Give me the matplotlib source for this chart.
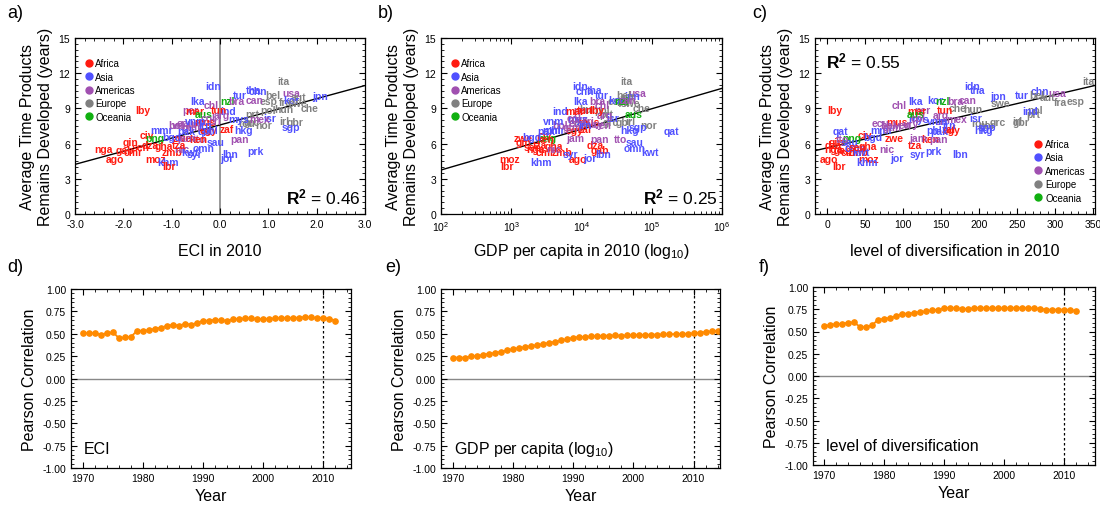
import numpy as np
import matplotlib
matplotlib.use("Agg")
import matplotlib.pyplot as plt
from matplotlib.lines import Line2D
from matplotlib.ticker import MultipleLocator, LogLocator, NullFormatter

plt.rcParams['font.family'] = ['Liberation Sans', 'DejaVu Sans']
plt.rcParams['mathtext.fontset'] = 'custom'
plt.rcParams['mathtext.rm'] = 'Liberation Sans'
plt.rcParams['mathtext.bf'] = 'Liberation Sans:bold'

# ---- scatter data ----
regions = ['Africa', 'Asia', 'Americas', 'Europe', 'Oceania']
region_colors = ['#ff1a10', '#5050ff', '#a050b0', '#808080', '#10b010']

codes = ['ita', 'idn', 'chn', 'tha', 'tur', 'usa', 'jpn', 'bel', 'aut', 'esp',
         'fra', 'kor', 'swe', 'che', 'hun', 'pol', 'prt', 'grc', 'rou', 'irl',
         'gbr', 'nor', 'isr', 'sgp', 'hkg', 'mex', 'mys', 'ind', 'lka', 'chl',
         'per', 'mar', 'aus', 'nzl', 'bra', 'tun', 'arg', 'can', 'col', 'lby',
         'nga', 'ago', 'gin', 'civ', 'png', 'dza', 'gab', 'cmr', 'gha', 'moz',
         'khm', 'lbr', 'zmb', 'nic', 'kwt', 'syr', 'omn', 'sau', 'tto', 'qat',
         'mmr', 'zwe', 'ken', 'tza', 'pan', 'prk', 'lbn', 'jor', 'mus', 'egy',
         'zaf', 'ven', 'ecu', 'bol', 'ury', 'gtm', 'jam', 'cri', 'sen', 'pak',
         'bgd', 'phl', 'vnm', 'irn']
region_of = ['Europe', 'Asia', 'Asia', 'Asia', 'Asia', 'Americas', 'Asia', 'Europe', 'Europe', 'Europe',
             'Europe', 'Asia', 'Europe', 'Europe', 'Europe', 'Europe', 'Europe', 'Europe', 'Europe', 'Europe',
             'Europe', 'Europe', 'Asia', 'Asia', 'Asia', 'Americas', 'Asia', 'Asia', 'Asia', 'Americas',
             'Americas', 'Africa', 'Oceania', 'Oceania', 'Americas', 'Africa', 'Americas', 'Americas', 'Americas', 'Africa',
             'Africa', 'Africa', 'Africa', 'Africa', 'Oceania', 'Africa', 'Africa', 'Africa', 'Africa', 'Africa',
             'Asia', 'Africa', 'Africa', 'Americas', 'Asia', 'Asia', 'Asia', 'Asia', 'Americas', 'Asia',
             'Asia', 'Africa', 'Africa', 'Africa', 'Americas', 'Asia', 'Asia', 'Asia', 'Africa', 'Africa',
             'Africa', 'Americas', 'Americas', 'Americas', 'Americas', 'Americas', 'Americas', 'Americas', 'Africa', 'Asia',
             'Asia', 'Asia', 'Asia', 'Asia']
avg_time = [11.3, 10.9, 10.5, 10.55, 10.1, 10.3, 10.05, 10.1, 10.0, 9.65,
            9.55, 9.75, 9.5, 9.0, 8.95, 8.9, 8.5, 7.8, 7.75, 7.9,
            7.85, 7.6, 8.2, 7.4, 7.15, 8.1, 8.1, 8.8, 9.6, 9.3,
            8.9, 8.8, 8.5, 9.6, 9.6, 8.85, 8.45, 9.7, 8.15, 8.9,
            5.5, 4.7, 6.15, 6.7, 6.5, 5.9, 5.45, 5.25, 5.8, 4.7,
            4.4, 4.05, 5.3, 5.55, 5.25, 5.15, 5.6, 6.15, 6.4, 7.1,
            7.15, 6.5, 6.4, 5.9, 6.4, 5.4, 5.1, 4.75, 7.8, 7.2,
            7.25, 7.6, 7.75, 7.6, 7.7, 7.4, 6.5, 7.9, 5.7, 7.1,
            6.6, 7.2, 7.9, 7.6]
eci_2010 = [1.31, -0.14, 0.79, 0.69, 0.41, 1.48, 2.07, 1.10, 1.63, 1.00,
            1.35, 1.48, 1.60, 1.86, 1.31, 1.00, 0.66, 0.66, 0.55, 1.34,
            1.55, 0.90, 1.03, 1.47, 0.48, 0.83, 0.38, 0.17, -0.46, -0.19,
            -0.62, -0.53, -0.34, 0.15, 0.34, -0.02, 0.03, 0.71, -0.24, -1.59,
            -2.41, -2.17, -1.86, -1.52, -1.34, -1.45, -1.97, -1.79, -1.17, -1.34,
            -1.07, -1.05, -0.99, -0.79, -0.62, -0.52, -0.34, -0.10, -0.42, -0.30,
            -1.21, -0.79, -0.45, -0.85, 0.41, 0.74, 0.21, 0.15, -0.31, -0.24,
            0.14, -0.80, -0.72, -0.90, -0.50, -0.60, -0.70, -0.10, -1.65, -0.70,
            -1.00, -0.20, -0.50, -0.30]
log_gdp_2010 = [4.64, 3.98, 4.05, 4.19, 4.29, 4.79, 4.72, 4.60, 4.66, 4.50,
                4.60, 4.50, 4.70, 4.85, 4.10, 4.30, 4.35, 4.42, 4.00, 4.70,
                4.60, 4.95, 4.45, 4.80, 4.68, 3.95, 3.95, 3.69, 3.98, 4.30,
                4.00, 3.91, 4.74, 4.57, 4.22, 4.05, 4.33, 4.65, 3.90, 4.22,
                3.35, 3.95, 3.17, 3.48, 3.50, 4.19, 4.26, 3.48, 3.60, 2.98,
                3.43, 2.94, 3.72, 3.60, 4.98, 3.84, 4.75, 4.76, 4.56, 5.28,
                3.60, 3.17, 3.48, 3.41, 4.26, np.nan, 4.31, 4.12, 4.10, 3.90,
                4.05, 4.31, 3.95, 3.70, 4.20, 3.87, 3.91, 4.10, 3.30, 3.50,
                3.30, 3.60, 3.60, 4.05]
diversification_2010 = [343, 190, 280, 198, 256, 302, 224, 276, 290, 326,
                        306, 142, 228, 172, 192, 273, 271, 224, 201, 250,
                        255, 210, 195, 210, 205, 170, 120, 267, 116, 95,
                        125, 118, 116, 152, 168, 155, 150, 185, 120, 10,
                        8, 2, 12, 49, 33, 8, 20, 30, 54, 54,
                        52, 15, 40, 78, 45, 118, 37, 30, 20, 17,
                        72, 88, 135, 116, 146, 140, 175, 92, 92, 164,
                        160, 100, 70, 80, 110, 85, 120, 150, 40, 148,
                        60, 140, 145, 160]

# regression lines (slope, intercept) and R^2
fit_eci = (1.12, 7.59)
fit_gdp = (1.74, 0.27)      # y = a*log10(gdp) + b
fit_div = (0.0151, 5.64)
r2_values = ['0.46', '0.25', '0.55']

# ---- Pearson correlation time series ----
years_eci = list(range(1970, 2013))
corr_eci = [0.508, 0.505, 0.508, 0.49, 0.508, 0.516, 0.45, 0.46, 0.467, 0.534,
            0.534, 0.54, 0.557, 0.568, 0.59, 0.60, 0.59, 0.613, 0.60, 0.624,
            0.646, 0.646, 0.657, 0.65, 0.646, 0.665, 0.665, 0.672, 0.672, 0.665,
            0.665, 0.668, 0.672, 0.676, 0.676, 0.676, 0.68, 0.687, 0.683, 0.676,
            0.676, 0.668, 0.646]
years_gdp = list(range(1970, 2015))
corr_gdp = [0.233, 0.233, 0.233, 0.25, 0.25, 0.266, 0.277, 0.285, 0.30, 0.315,
            0.33, 0.34, 0.352, 0.363, 0.374, 0.385, 0.40, 0.41, 0.426, 0.44,
            0.456, 0.464, 0.464, 0.47, 0.475, 0.478, 0.478, 0.482, 0.478, 0.482,
            0.486, 0.486, 0.486, 0.49, 0.49, 0.493, 0.493, 0.497, 0.497, 0.50,
            0.505, 0.512, 0.52, 0.527, 0.534]
years_div = list(range(1970, 2013))
corr_div = [0.562, 0.573, 0.584, 0.584, 0.60, 0.603, 0.554, 0.547, 0.57, 0.63,
            0.644, 0.652, 0.674, 0.70, 0.70, 0.71, 0.72, 0.727, 0.738, 0.745,
            0.764, 0.764, 0.76, 0.757, 0.75, 0.764, 0.764, 0.76, 0.764, 0.76,
            0.76, 0.764, 0.764, 0.768, 0.764, 0.76, 0.757, 0.745, 0.745, 0.745,
            0.745, 0.742, 0.73]

W, H = 1100, 506
fig = plt.figure(figsize=(W / 100, H / 100), dpi=100)


def box(l, r, t, b):
    return [l / W, (H - b) / H, (r - l) / W, (b - t) / H]


def style(ax):
    ax.tick_params(which='both', direction='in', top=True, right=True, labelsize=7.5)
    ax.tick_params(which='major', length=4, width=0.8)
    ax.tick_params(which='minor', length=2, width=0.6)
    for s in ax.spines.values():
        s.set_linewidth(0.9)


ax_a = fig.add_axes(box(75, 365, 39, 215))
ax_b = fig.add_axes(box(441, 722, 39, 215))
ax_c = fig.add_axes(box(815, 1095, 39, 215))
scatter_axes = [ax_a, ax_b, ax_c]
xvals = [eci_2010, [10 ** g for g in log_gdp_2010], diversification_2010]
color_map = dict(zip(regions, region_colors))

for ax, xs in zip(scatter_axes, xvals):
    style(ax)
    ax.set_ylim(0, 15)
    ax.yaxis.set_major_locator(MultipleLocator(3))
    ax.yaxis.set_minor_locator(MultipleLocator(0.5))
    ax.set_ylabel('Average Time Products\nRemains Developed (years)', fontsize=11.5, labelpad=4)
    for code, reg, x, y in zip(codes, region_of, xs, avg_time):
        if np.isnan(x):
            continue
        ax.text(x, y, code, color=color_map[reg], fontsize=7.5, fontweight='bold',
                ha='center', va='center', clip_on=True)

# panel a
ax_a.set_xlim(-3, 3)
ax_a.xaxis.set_major_locator(MultipleLocator(1))
ax_a.xaxis.set_minor_locator(MultipleLocator(0.2))
ax_a.set_xticklabels([f'{v:.1f}' for v in ax_a.get_xticks()])
ax_a.axvline(0, color='#888888', lw=1.2, zorder=0)
xx = np.linspace(-3, 3, 10)
ax_a.plot(xx, fit_eci[0] * xx + fit_eci[1], color='black', lw=1)
ax_a.set_xlabel('ECI in 2010', fontsize=11.5, labelpad=10)

# panel b
ax_b.set_xscale('log')
ax_b.set_xlim(1e2, 1e6)
ax_b.xaxis.set_major_locator(LogLocator(base=10, numticks=10))
ax_b.xaxis.set_minor_locator(LogLocator(base=10, subs=np.arange(2, 10), numticks=20))
ax_b.xaxis.set_minor_formatter(NullFormatter())
xx = np.logspace(2, 6, 20)
ax_b.plot(xx, fit_gdp[0] * np.log10(xx) + fit_gdp[1], color='black', lw=1)
ax_b.set_xlabel('GDP per capita in 2010 (log$_{10}$)', fontsize=11.5, labelpad=6)

# panel c
ax_c.set_xlim(-16, 352)
ax_c.xaxis.set_major_locator(MultipleLocator(50))
ax_c.xaxis.set_minor_locator(MultipleLocator(10))
xx = np.linspace(-16, 352, 10)
ax_c.plot(xx, fit_div[0] * xx + fit_div[1], color='black', lw=1)
ax_c.set_xlabel('level of diversification in 2010', fontsize=11.5, labelpad=10)

# legends
handles = [Line2D([], [], marker='o', ls='', color=c, markersize=5) for c in region_colors]
for ax, loc, anchor in [(ax_a, 'upper left', (0.0, 0.93)), (ax_b, 'upper left', (0.0, 0.93)),
                        (ax_c, 'lower right', (0.995, 0.02))]:
    ax.legend(handles, regions, loc=loc, bbox_to_anchor=anchor, frameon=False, fontsize=7,
              handletextpad=0.1, labelspacing=0.35, borderpad=0.3, handlelength=1.2)

# R^2 labels
ax_a.text(0.985, 0.10, r'$\mathbf{R^2}$ = ' + r2_values[0], transform=ax_a.transAxes,
          ha='right', va='center', fontsize=12.5)
ax_b.text(0.985, 0.10, r'$\mathbf{R^2}$ = ' + r2_values[1], transform=ax_b.transAxes,
          ha='right', va='center', fontsize=12.5)
ax_c.text(0.04, 0.87, r'$\mathbf{R^2}$ = ' + r2_values[2], transform=ax_c.transAxes,
          ha='left', va='center', fontsize=12.5)

# ---- bottom panels ----
ax_d = fig.add_axes(box(71, 351, 290, 469))
ax_e = fig.add_axes(box(441, 720, 290, 469))
ax_f = fig.add_axes(box(813, 1095, 288, 466))
series = [(ax_d, years_eci, corr_eci, 'ECI', (1968, 2014.6)),
          (ax_e, years_gdp, corr_gdp, 'GDP per capita (log$_{10}$)', (1968, 2014.4)),
          (ax_f, years_div, corr_div, 'level of diversification', (1968.2, 2015.1))]
for ax, yrs, vals, lab, xl in series:
    style(ax)
    ax.set_xlim(*xl)
    ax.set_ylim(-1, 1)
    ax.yaxis.set_major_locator(MultipleLocator(0.25))
    ax.yaxis.set_minor_locator(MultipleLocator(0.05))
    ax.xaxis.set_major_locator(MultipleLocator(10))
    ax.xaxis.set_minor_locator(MultipleLocator(2))
    ax.set_yticklabels([f'{v:.2f}' for v in ax.get_yticks()])
    ax.axhline(0, color='#888888', lw=1, zorder=0)
    ax.axvline(2010, color='black', lw=0.9, ls=(0, (2, 2)))
    ax.plot(yrs, vals, color='#ff8a00', lw=1.3, marker='o', markersize=3.8)
    ax.set_ylabel('Pearson Correlation', fontsize=11.5, labelpad=4)
    ax.set_xlabel('Year', fontsize=11.5, labelpad=4)
    ax.text(0.045, 0.11, lab, transform=ax.transAxes, fontsize=11.5, ha='left', va='center')

# panel letters
for lab, x, y in [('a)', 7, 14), ('b)', 378, 14), ('c)', 752, 14),
                  ('d)', 7, 268), ('e)', 385, 268), ('f)', 759, 268)]:
    fig.text(x / W, 1 - y / H, lab, fontsize=13, ha='left', va='center')

fig.savefig('out.png', dpi=100)
